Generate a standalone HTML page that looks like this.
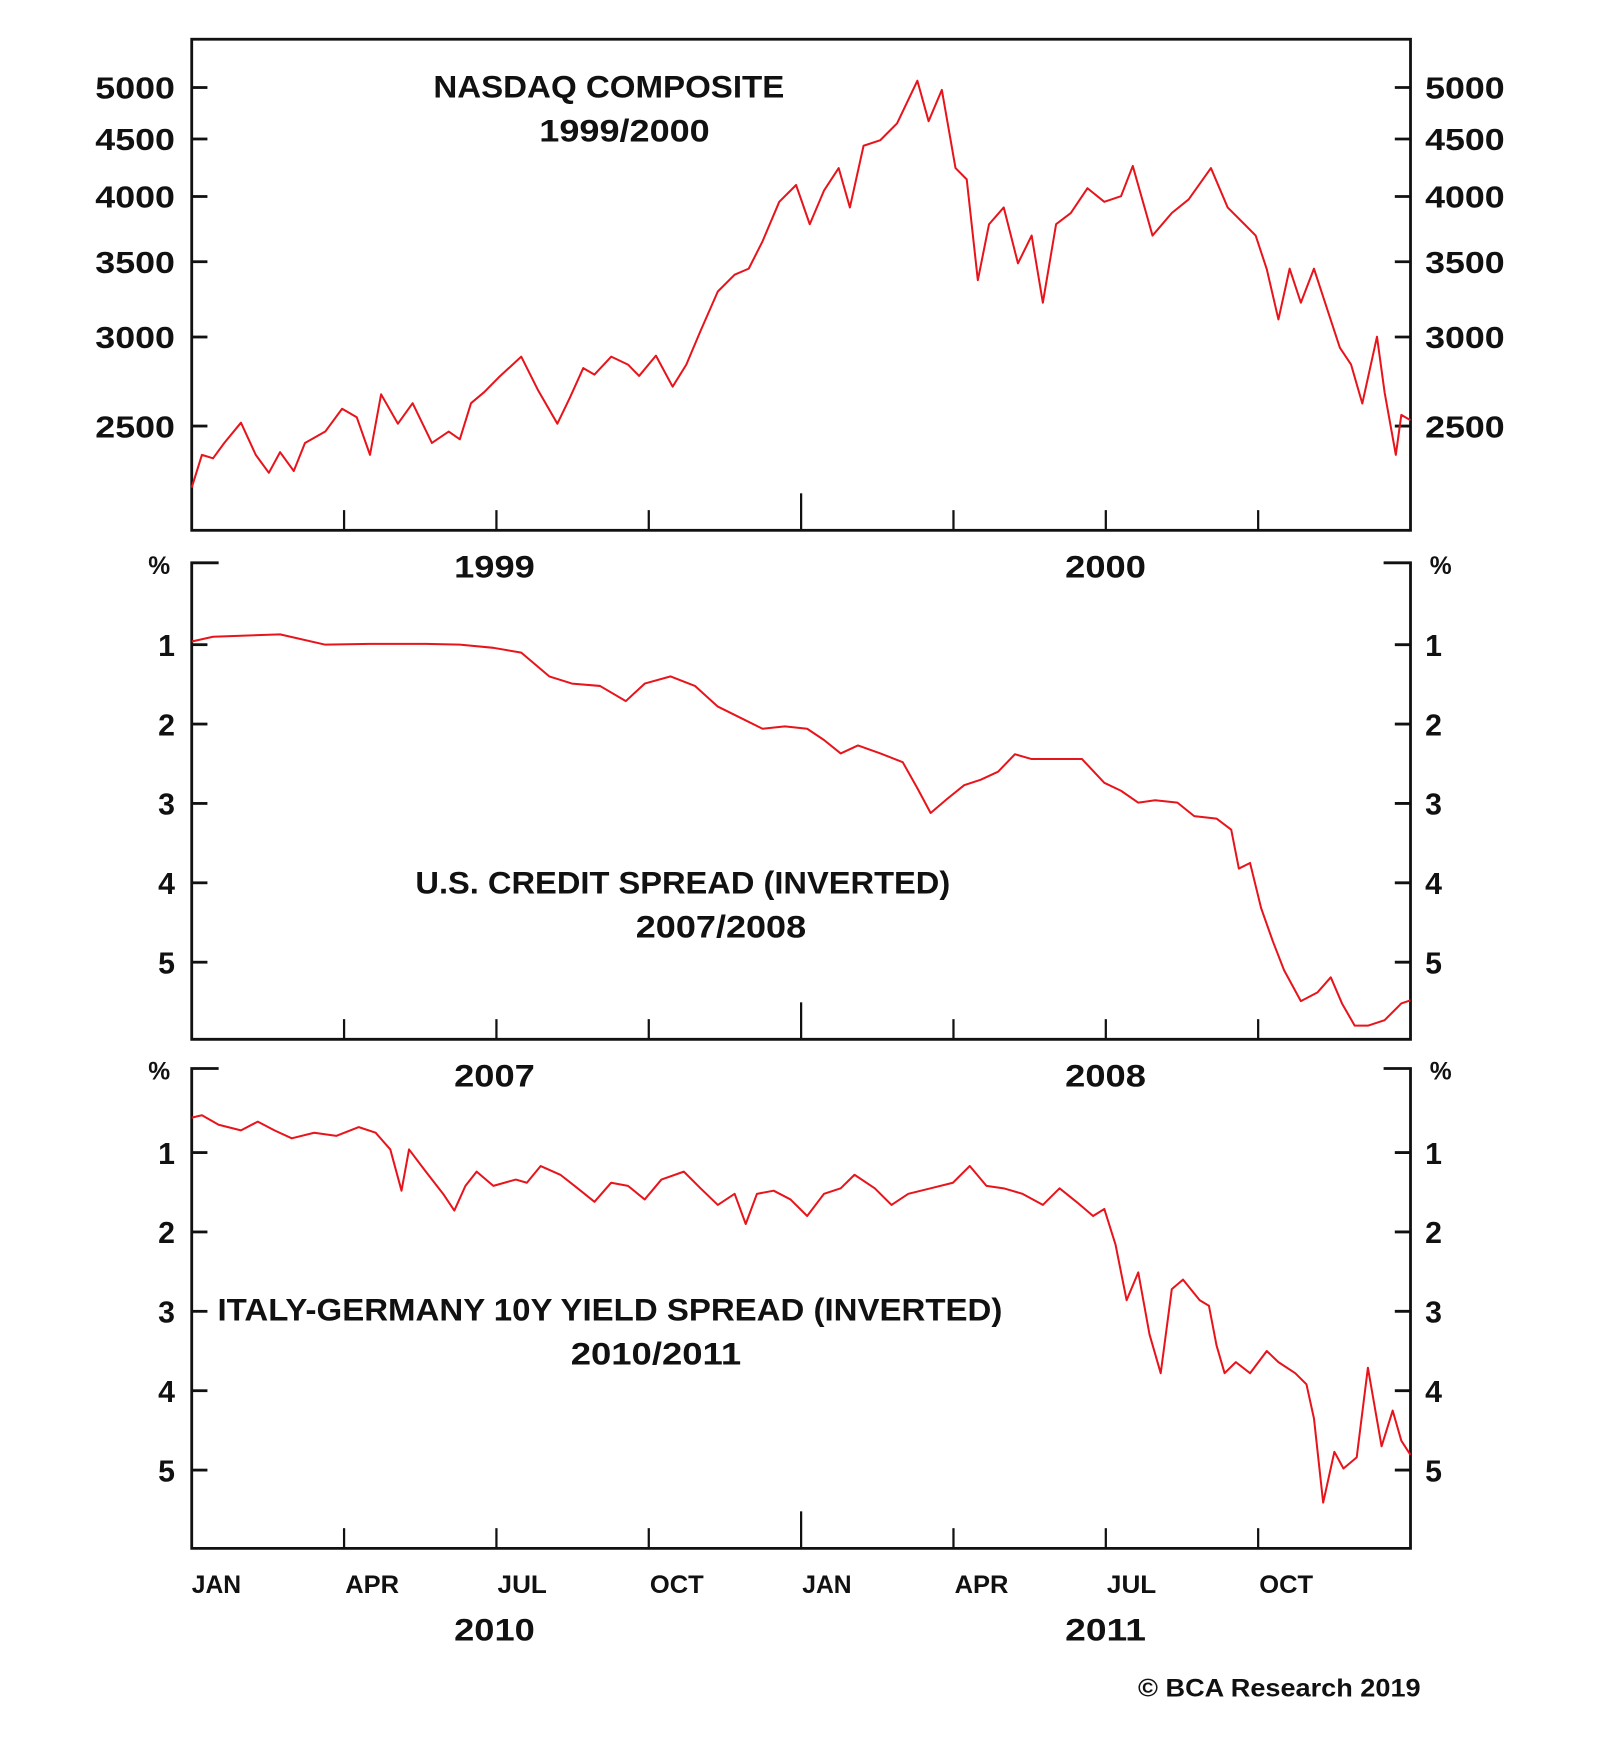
<!DOCTYPE html>
<html><head><meta charset="utf-8"><style>
html,body{margin:0;padding:0;background:#fff}
svg{display:block}
text{font-family:"Liberation Sans",Arial,sans-serif;font-weight:bold;fill:#111}
</style></head><body>
<svg id="chart" width="1600" height="1758" viewBox="0 0 1427 1568" preserveAspectRatio="none" xmlns="http://www.w3.org/2000/svg">
<g id="frames"></g>
<g id="marks"></g>
<g id="labels"></g>
</svg>
<script>
const nasdaqMonths=[0,.2,.42,.64,.97,1.26,1.52,1.74,2.01,2.23,2.63,2.96,3.25,3.51,3.73,4.06,4.35,4.73,5.06,5.28,5.5,5.76,6.05,6.49,6.82,7.2,7.44,7.71,7.93,8.26,8.59,8.81,9.14,9.47,9.74,10.02,10.36,10.69,10.97,11.24,11.57,11.9,12.17,12.45,12.74,12.96,13.23,13.56,13.89,14.29,14.51,14.77,15.04,15.26,15.48,15.7,15.99,16.27,16.54,16.76,17.02,17.31,17.64,17.97,18.3,18.53,18.92,19.3,19.63,20.07,20.4,20.73,20.95,21.17,21.4,21.62,21.84,22.1,22.39,22.61,22.83,23.05,23.34,23.49,23.71,23.82,24];
const nasdaqValues=[2204,2357,2340,2415,2517,2357,2272,2370,2280,2415,2472,2590,2545,2357,2668,2512,2620,2415,2472,2433,2620,2680,2763,2882,2690,2512,2646,2815,2778,2882,2835,2770,2888,2710,2835,3038,3293,3408,3451,3650,3957,4095,3779,4049,4240,3912,4438,4489,4647,5070,4667,4976,4240,4143,3370,3779,3912,3488,3693,3218,3779,3867,4068,3957,4002,4258,3693,3867,3976,4240,3912,3779,3693,3447,3110,3451,3218,3451,3145,2935,2835,2618,3002,2678,2357,2558,2530];
const nasdaqTicks=[2500,3000,3500,4000,4500,5000];
const creditMonths=[0,.42,1.74,2.63,3.51,4.61,5.28,5.94,6.49,7.04,7.49,8.04,8.55,8.92,9.43,9.91,10.36,10.8,11.24,11.68,12.12,12.45,12.78,13.12,13.56,14,14.29,14.55,14.88,15.21,15.54,15.88,16.21,16.54,16.98,17.53,17.97,18.3,18.64,18.97,19.41,19.74,20.18,20.47,20.62,20.84,21.06,21.29,21.51,21.84,22.17,22.43,22.65,22.9,23.16,23.49,23.82,24];
const creditValues=[0.96,0.9,0.87,1.0,0.99,0.99,1.0,1.04,1.1,1.4,1.49,1.52,1.71,1.49,1.4,1.52,1.78,1.92,2.06,2.03,2.06,2.2,2.37,2.27,2.37,2.48,2.81,3.12,2.94,2.77,2.7,2.6,2.38,2.44,2.44,2.44,2.74,2.84,2.99,2.96,2.99,3.16,3.19,3.33,3.82,3.75,4.32,4.74,5.1,5.49,5.38,5.19,5.52,5.8,5.8,5.73,5.52,5.48];
const italyMonths=[0,.2,.53,.97,1.3,1.63,1.97,2.41,2.85,3.29,3.62,3.91,4.13,4.28,4.61,4.95,5.17,5.39,5.61,5.94,6.38,6.6,6.87,7.26,7.6,7.93,8.26,8.59,8.92,9.25,9.69,10.02,10.36,10.69,10.91,11.13,11.46,11.79,12.12,12.45,12.78,13.05,13.45,13.78,14.11,14.55,14.99,15.32,15.65,15.99,16.36,16.76,17.09,17.42,17.75,17.97,18.19,18.41,18.64,18.86,19.08,19.3,19.52,19.85,20.03,20.18,20.34,20.56,20.84,21.17,21.4,21.73,21.95,22.1,22.28,22.5,22.68,22.94,23.16,23.43,23.65,23.82,24];
const italyValues=[0.56,0.53,0.65,0.72,0.61,0.72,0.82,0.75,0.79,0.68,0.75,0.96,1.48,0.96,1.24,1.52,1.73,1.42,1.24,1.42,1.34,1.38,1.17,1.28,1.45,1.62,1.38,1.42,1.59,1.34,1.24,1.45,1.66,1.52,1.9,1.52,1.48,1.59,1.8,1.52,1.45,1.28,1.45,1.66,1.52,1.45,1.38,1.17,1.42,1.45,1.52,1.66,1.45,1.62,1.8,1.71,2.16,2.86,2.51,3.29,3.78,2.72,2.6,2.86,2.93,3.43,3.78,3.64,3.78,3.5,3.64,3.78,3.92,4.35,5.41,4.77,4.98,4.84,3.71,4.7,4.25,4.63,4.81];
const spreadTicks=[1,2,3,4,5];
const monthLabels=["JAN","APR","JUL","OCT","JAN","APR","JUL","OCT"];

const NS="http://www.w3.org/2000/svg";
const L=171,R=1258;
const X=m=>L+(R-L)*m/24;
const yNas=v=>380-435.6*Math.log(v/2500);
const ySp2=v=>575+(v-1)*70.8;
const ySp3=v=>1028+(v-1)*70.8;
const frames=document.getElementById('frames'),marks=document.getElementById('marks'),labels=document.getElementById('labels');
function el(tag,attrs,parent){const e=document.createElementNS(NS,tag);for(const k in attrs)e.setAttribute(k,attrs[k]);parent.appendChild(e);return e;}
function txt(s,x,y,size,anchor,parent,len){const t=el('text',{x:x,y:y,'font-size':size,'text-anchor':anchor||'start'},parent);if(len){t.setAttribute('textLength',len);t.setAttribute('lengthAdjust','spacingAndGlyphs');}t.textContent=s;return t;}
const st={stroke:'#111','stroke-width':2.5,fill:'none'};

const f1=el('rect',Object.assign({x:L,y:35,width:R-L,height:438},st),frames);


[[502,927],[953,1381]].forEach((p,i)=>{
 const pa=el('path',Object.assign({d:`M${L+24},${p[0]}H${L}V${p[1]}H${R}V${p[0]}H${R-24}`},st),frames);
 
 
 const a=txt('%',142,p[0]+10,22,'middle',labels);
 
 
 const b=txt('%',1285,p[0]+10,22,'middle',labels);
 
 
});
[473,927,1381].forEach(by=>{
 for(let m=3;m<24;m+=3){
  const len=m===12?33:18;
  const t=el('line',{x1:X(m),x2:X(m),y1:by,y2:by-len,stroke:'#111','stroke-width':2},frames);
  
  
 }
});
function yTicks(ticks,fy){
 ticks.forEach(v=>{
  const y=fy(v);
  const a=el('line',{x1:L,x2:L+14,y1:y,y2:y,stroke:'#111','stroke-width':2.5},frames);
  
  
  const b=el('line',{x1:R-14,x2:R,y1:y,y2:y,stroke:'#111','stroke-width':2.5},frames);
  
  
  const s=String(v);
  const big=s.length>1;
  const t1=txt(s,156,y+10,27,'end',labels,big?71:null);
  
  
  const t2=txt(s,1271,y+10,27,'start',labels,big?71:null);
  
  
 });
}
yTicks(nasdaqTicks,yNas);
yTicks(spreadTicks,ySp2);
yTicks(spreadTicks,ySp3);
function line(ms,vs,fy,name){
 const d=ms.map((m,i)=>(i?'L':'M')+X(m).toFixed(1)+','+fy(vs[i]).toFixed(1)).join('');
 const p=el('path',{d:d,stroke:'#e8141b','stroke-width':1.8,fill:'none','stroke-linejoin':'round'},marks);
 
 
}
line(nasdaqMonths,nasdaqValues,yNas,'nasdaq-line');
line(creditMonths,creditValues,ySp2,'credit-spread-line');
line(italyMonths,italyValues,ySp3,'italy-spread-line');
const titles=[["NASDAQ COMPOSITE",543,87,313],["1999/2000",557,126,152],["U.S. CREDIT SPREAD (INVERTED)",609,797,477],["2007/2008",643,836,152],["ITALY-GERMANY 10Y YIELD SPREAD (INVERTED)",544,1178,700],["2010/2011",585,1217,152]];
titles.forEach(t=>{
 const e=txt(t[0],t[1],t[2],28,'middle',labels,t[3]);
 
 
});
[["1999",441,515],["2000",986,515],["2007",441,969],["2008",986,969],["2010",441,1463],["2011",986,1463]].forEach(t=>{
 const e=txt(t[0],t[1],t[2],28,'middle',labels,72);
 
 
});
monthLabels.forEach((s,i)=>{
 const e=txt(s,X(i*3)+(i===0?0:1),1421,22,'start',labels,s==="JUL"?44:(s==="OCT"?48:(s==="APR"?48:44)));
 
 
});
const c=txt("© BCA Research 2019",1267,1513,22,'end',labels,252);


</script>
</body></html>
